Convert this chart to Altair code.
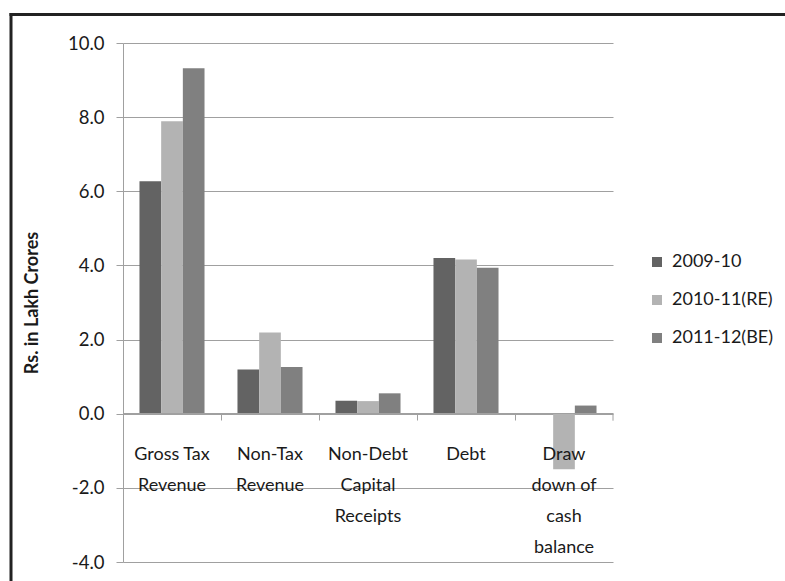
import altair as alt
import pandas as pd

categories = ["Gross Tax Revenue", "Non-Tax Revenue", "Non-Debt Capital Receipts",
              "Debt", "Draw down of cash balance"]
label_lines = [["Gross Tax", "Revenue"], ["Non-Tax", "Revenue"],
               ["Non-Debt", "Capital", "Receipts"], ["Debt"],
               ["Draw", "down of", "cash", "balance"]]
series = ["2009-10", "2010-11(RE)", "2011-12(BE)"]
v_2009_10 = [6.27, 1.19, 0.35, 4.20, 0.0]
v_2010_11 = [7.89, 2.19, 0.34, 4.16, -1.50]
v_2011_12 = [9.32, 1.26, 0.55, 3.94, 0.22]
colors = ["#636363", "#b3b3b3", "#808080"]
y_ticks = [-4, -2, 0, 2, 4, 6, 8, 10]

rows = []
for s, vals in zip(series, [v_2009_10, v_2010_11, v_2011_12]):
    for c, v in zip(categories, vals):
        rows.append({"Category": c, "Year": s, "Value": v})
df = pd.DataFrame(rows)

# multi-line label expression
expr = "''"
for c, lines in reversed(list(zip(categories, label_lines))):
    arr = "[" + ",".join("'" + l + "'" for l in lines) + "]"
    expr = f"datum.label == '{c}' ? {arr} : ({expr})"

FONT = "Lato"
W, H = 490, 519

bars = alt.Chart(df).mark_bar(strokeWidth=0).encode(
    x=alt.X("Category:N", sort=categories,
            scale=alt.Scale(paddingInner=0, paddingOuter=0),
            axis=alt.Axis(title=None, offset=-149, labelAngle=0, zindex=1,
                          labelExpr=expr, labelLineHeight=31,
                          labelFontSize=18, labelFont=FONT, labelColor="#1a1a1a",
                          labelPadding=25, labelBaseline="top",
                          tickSize=7, tickColor="#a0a0a0", bandPosition=0,
                          domainColor="#a0a0a0", grid=False)),
    xOffset=alt.XOffset("Year:N", sort=series,
                        scale=alt.Scale(paddingInner=0, paddingOuter=0.76)),
    y=alt.Y("Value:Q", scale=alt.Scale(domain=[-4, 10], nice=False, zero=False),
            axis=alt.Axis(title="Rs. in Lakh Crores", values=y_ticks,
                          labelExpr="(datum.value < 0 ? '-' : '') + format(abs(datum.value), '.1f')",
                          titleFont=FONT, titleFontSize=18, titleFontWeight="bold",
                          titleColor="#1a1a1a", titlePadding=26,
                          labelFont=FONT, labelFontSize=18.5, labelColor="#1a1a1a",
                          labelPadding=12, tickSize=7, tickColor="#a0a0a0",
                          gridColor="#a0a0a0", domainColor="#a0a0a0")),
    color=alt.Color("Year:N", sort=series,
                    scale=alt.Scale(domain=series, range=colors),
                    legend=alt.Legend(title=None, orient="none", legendX=525, legendY=210,
                                      symbolType="square", symbolSize=100,
                                      symbolStrokeWidth=0, labelFont=FONT,
                                      labelFontSize=18, labelColor="#1a1a1a",
                                      rowPadding=20, labelOffset=6)),
)

end_tick = alt.Chart(pd.DataFrame({"v": [0]})).mark_rule(
    color="#a0a0a0", y2Offset=7).encode(
    x=alt.value(W), y=alt.datum(0), y2=alt.datum(0))

frame_left = alt.Chart(pd.DataFrame({"v": [0]})).mark_rule(
    color="#222222", strokeWidth=3).encode(
    x=alt.value(-112), y=alt.value(-30), y2=alt.value(H + 19))
frame_top = alt.Chart(pd.DataFrame({"v": [0]})).mark_rule(
    color="#222222", strokeWidth=3).encode(
    x=alt.value(-113.5), x2=alt.value(670), y=alt.value(-28.5))

chart = alt.layer(bars, end_tick, frame_left, frame_top).properties(
    width=W, height=H,
    autosize=alt.AutoSizeParams(type="none"),
    padding={"left": 123, "top": 43, "right": 172, "bottom": 19},
    background="white",
).configure_view(stroke=None)

chart.save("out.html", embed_options={"renderer": "svg", "actions": False})
